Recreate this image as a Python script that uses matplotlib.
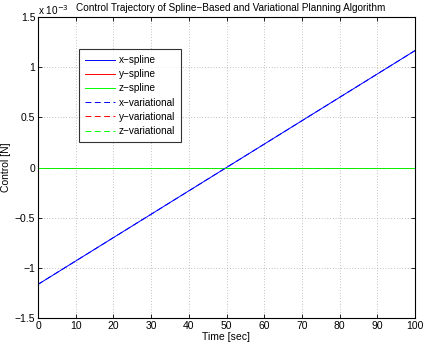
import numpy as np
import matplotlib
matplotlib.use("Agg")
import matplotlib.pyplot as plt
from matplotlib.ticker import FuncFormatter

plt.rcParams['font.family'] = ['Liberation Sans', 'DejaVu Sans']

# Data (control in N, scale 1e-3)
time = [0, 100]
x_spline = [-1.165e-3, 1.165e-3]
y_spline = [0.0, 0.0]
z_spline = [0.0, 0.0]
x_var = [-1.165e-3, 1.165e-3]
y_var = [0.0, 0.0]
z_var = [0.0, 0.0]
labels = ['x\u2212spline', 'y\u2212spline', 'z\u2212spline',
          'x\u2212variational', 'y\u2212variational', 'z\u2212variational']
xticks = [0, 10, 20, 30, 40, 50, 60, 70, 80, 90, 100]
yticks = [-1.5e-3, -1e-3, -0.5e-3, 0, 0.5e-3, 1e-3, 1.5e-3]

fig = plt.figure(figsize=(4.28, 3.45), dpi=100)
ax = fig.add_axes([38/428, 1-318/345, (415-38)/428, (318-17)/345])

dash = (0, (6, 3.6))
ax.plot(time, x_spline, color=(0, 0, 1), lw=0.7, label=labels[0])
ax.plot(time, y_spline, color=(1, 0, 0), lw=0.7, label=labels[1])
ax.plot(time, z_spline, color=(0, 1, 0), lw=0.7, label=labels[2])
ax.plot(time, x_var, color=(0, 0, 1), lw=0.7, ls=dash, label=labels[3])
ax.plot(time, y_var, color=(1, 0, 0), lw=0.7, ls=dash, label=labels[4])
ax.plot(time, z_var, color=(0, 1, 0), lw=0.7, ls=dash, label=labels[5])

ax.set_xlim(0, 100)
ax.set_ylim(-1.5e-3, 1.5e-3)
ax.set_xticks(xticks)
ax.set_yticks(yticks)

def yfmt(v, pos):
    s = ('%g' % round(v * 1e3, 3))
    return s.replace('-', '\u2212')
ax.yaxis.set_major_formatter(FuncFormatter(yfmt))

ax.tick_params(direction='in', length=3, width=0.6, labelsize=7.5, top=True, right=True, pad=2)
for sp in ax.spines.values():
    sp.set_linewidth(0.8)
ax.grid(True, ls=(0, (1, 3)), color='#888888', lw=0.5)

ax.set_xlabel('Time [sec]', fontsize=7.5, labelpad=1)
ax.set_ylabel('Control [N]', fontsize=7.5)
ax.yaxis.set_label_coords((11 - 38) / 377, 0.5)
ax.set_title('Control Trajectory of Spline\u2212Based and Variational Planning Algorithm',
             fontsize=7.2, pad=4, x=0.51)
fig.text(38/428, 1-10/345, 'x 10$^{-3}$', fontsize=7.2, ha='left', va='center')

leg = ax.legend(loc='upper left', bbox_to_anchor=((79-38)/377, 1-(49-17)/301),
                fontsize=7.2, frameon=True, fancybox=False, edgecolor='black',
                handlelength=3.0, handletextpad=0.4, labelspacing=0.42,
                borderpad=0.6, borderaxespad=0)
leg.get_frame().set_linewidth(0.8)

fig.savefig('out.png', dpi=100)
